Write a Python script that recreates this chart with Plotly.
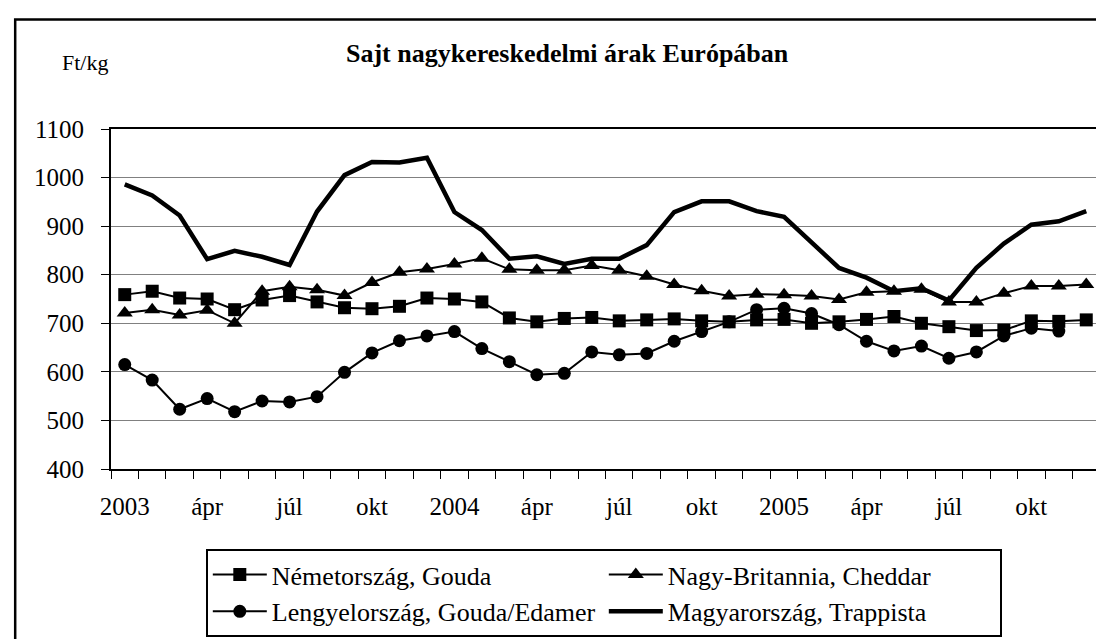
import plotly.graph_objects as go

months = [f"{y}-{m:02d}" for y in (2003, 2004, 2005) for m in range(1, 13)]
tick_idx = [0, 3, 6, 9, 12, 15, 18, 21, 24, 27, 30, 33]
tick_labels = ["2003", "ápr", "júl", "okt", "2004", "ápr", "júl", "okt",
               "2005", "ápr", "júl", "okt"]

gouda = [759, 766, 752, 750, 728, 748, 757, 744, 732, 730, 735, 752,
         750, 744, 711, 703, 710, 712, 705, 707, 709, 705, 703, 707,
         708, 700, 703, 708, 714, 700, 693, 685, 686, 705, 704, 707]
cheddar = [721, 728, 717, 727, 700, 766, 775, 769, 757, 784, 805, 812,
           822, 834, 811, 809, 809, 819, 809, 797, 780, 767, 756, 760,
           759, 756, 749, 764, 766, 770, 744, 744, 762, 777, 777, 780]
lengyel = [615, 583, 523, 545, 518, 540, 538, 549, 599, 639, 664, 674,
           683, 648, 621, 594, 597, 641, 635, 638, 663, 683, 703, 728,
           731, 720, 697, 663, 643, 653, 628, 641, 674, 690, 684, None]
trappista = [986, 963, 922, 832, 849, 837, 820, 930, 1005, 1032, 1031, 1041,
             929, 892, 833, 838, 822, 833, 833, 861, 929, 951, 951, 931,
             919, 867, 814, 794, 766, 772, 747, 814, 864, 903, 910, 931]

x = list(range(len(months)))
FONT = "Liberation Serif"

fig = go.Figure()
fig.add_trace(go.Scatter(x=x, y=gouda, name="Németország, Gouda", mode="lines+markers",
                         line=dict(color="black", width=2),
                         marker=dict(symbol="square", size=13, color="black")))
fig.add_trace(go.Scatter(x=x, y=cheddar, name="Nagy-Britannia, Cheddar", mode="lines+markers",
                         line=dict(color="black", width=2),
                         marker=dict(symbol="triangle-up", size=14, color="black")))
fig.add_trace(go.Scatter(x=x, y=lengyel, name="Lengyelország, Gouda/Edamer", mode="lines+markers",
                         line=dict(color="black", width=2),
                         marker=dict(symbol="circle", size=13, color="black")))
fig.add_trace(go.Scatter(x=x, y=trappista, name="Magyarország, Trappista", mode="lines",
                         line=dict(color="black", width=4.5)))

L, R, T, B = 103, 10, 121, 170
W, H = 1104, 639
pw, ph = W - L - R, H - T - B

def px(xp):
    return (xp - L) / pw

def py(yp):
    return (H - B - yp) / ph

fig.update_layout(
    width=W, height=H,
    margin=dict(l=L, r=R, t=T, b=B, pad=0),
    paper_bgcolor="white", plot_bgcolor="white",
    font=dict(family=FONT, size=25, color="black"),
    showlegend=True,
    legend=dict(orientation="h", x=px(198), y=py(551), xanchor="left", yanchor="top",
                bgcolor="white", bordercolor="black", borderwidth=2,
                font=dict(family=FONT, size=26, color="black"),
                entrywidth=327, entrywidthmode="pixels", itemwidth=54,
                tracegroupgap=0, traceorder="normal"),
    xaxis=dict(range=[-0.5, len(months) - 0.5], showgrid=False, zeroline=False,
               tickmode="array", tickvals=tick_idx, ticktext=tick_labels, ticks="",
               showline=True, linecolor="black", linewidth=2, mirror=True,
               ticklabelstandoff=14,
               minor=dict(tickmode="linear", tick0=-0.5, dtick=1, ticks="outside",
                          ticklen=8, tickcolor="black", tickwidth=1, showgrid=False),
               tickfont=dict(family=FONT, size=25, color="black")),
    yaxis=dict(range=[400, 1100], dtick=100, tick0=400, showgrid=True,
               gridcolor="#808080", gridwidth=1, zeroline=False,
               ticks="outside", ticklen=8, tickcolor="black", tickwidth=1,
               showline=True, linecolor="black", linewidth=2, mirror=True,
               ticklabelstandoff=12,
               tickfont=dict(family=FONT, size=25, color="black")),
    shapes=[dict(type="rect", xref="paper", yref="paper",
                 x0=px(7), x1=px(1112), y0=py(650), y1=py(9),
                 line=dict(color="black", width=2.5), fillcolor="rgba(0,0,0,0)",
                 layer="below")],
    annotations=[
        dict(text="<b>Sajt nagykereskedelmi árak Európában</b>", xref="paper", yref="paper",
             x=px(560), y=py(44), xanchor="center", yanchor="middle", showarrow=False,
             font=dict(family=FONT, size=26, color="black")),
        dict(text="Ft/kg", xref="paper", yref="paper",
             x=px(77), y=py(53), xanchor="center", yanchor="middle", showarrow=False,
             font=dict(family=FONT, size=22, color="black")),
    ],
)

fig.write_html("out.html")
